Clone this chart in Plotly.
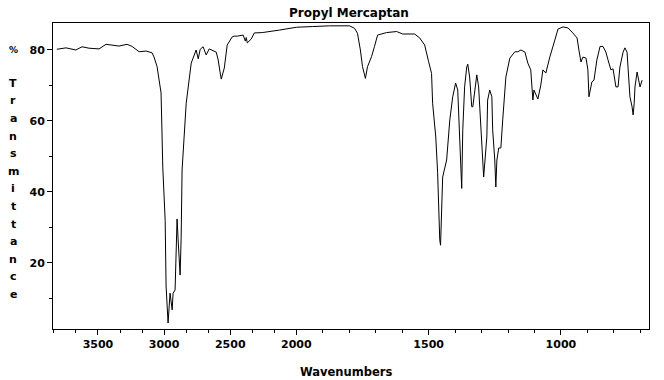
import plotly.graph_objects as go

# ---- data (wavenumber cm-1, % transmittance) ----
wavenumbers = [
    3811, 3742, 3667, 3621, 3568, 3492, 3439, 3341, 3280, 3242, 3189, 3136, 3091, 3076,
    3053, 3023, 3018, 3010, 2992, 2985, 2970, 2955, 2939, 2932, 2917, 2909, 2902, 2894,
    2879, 2871, 2864, 2833, 2795, 2758, 2742, 2727, 2705, 2682, 2659, 2606, 2591, 2576,
    2568, 2545, 2523, 2485, 2470, 2447, 2402, 2386, 2379, 2371, 2341, 2318, 2258, 2129,
    2000, 1939, 1875, 1799, 1780, 1769, 1758, 1750, 1739, 1731, 1716, 1705, 1693, 1659,
    1621, 1598, 1553, 1534, 1515, 1500, 1489, 1485, 1473, 1466, 1462, 1458, 1455, 1451,
    1447, 1432, 1420, 1409, 1398, 1390, 1383, 1375, 1371, 1364, 1356, 1352, 1345, 1337,
    1333, 1322, 1318, 1311, 1303, 1292, 1280, 1277, 1269, 1261, 1258, 1250, 1246, 1242,
    1235, 1227, 1220, 1208, 1193, 1174, 1163, 1151, 1136, 1125, 1114, 1106, 1102, 1095,
    1087, 1076, 1068, 1057, 1042, 1023, 1011, 992, 973, 955, 939, 932, 924, 917,
    905, 898, 894, 883, 875, 864, 852, 841, 830, 822, 811, 803, 792, 784,
    777, 765, 758, 750, 746, 739, 731, 727, 723, 720, 712, 708, 701, 693,
]
transmittance = [
    80.2, 80.6, 80.0, 80.9, 80.5, 80.3, 81.6, 81.1, 81.6, 81.0, 79.5, 79.7, 79.2, 78.0,
    75.3, 67.9, 60.0, 47.0, 32.0, 13.5, 3.1, 11.5, 6.8, 11.5, 12.4, 26.5, 32.4, 26.5,
    16.6, 27.3, 46.2, 65.0, 76.3, 80.0, 77.5, 80.2, 80.9, 78.6, 80.3, 79.4, 77.2, 73.5,
    71.8, 74.9, 81.4, 83.7, 83.9, 83.9, 84.2, 82.5, 83.5, 82.0, 83.1, 84.8, 84.9, 85.6,
    86.4, 86.6, 86.8, 86.8, 86.1, 84.7, 80.0, 75.3, 72.0, 75.3, 78.1, 80.9, 84.2, 84.9,
    85.2, 84.5, 84.5, 83.4, 81.4, 76.7, 73.4, 65.0, 55.5, 45.4, 34.0, 26.5, 25.0, 35.8,
    44.2, 49.0, 60.3, 66.8, 70.7, 68.7, 57.5, 41.0, 57.5, 69.6, 75.2, 76.0, 72.4, 64.0,
    64.0, 72.0, 73.0, 69.6, 58.3, 44.2, 55.5, 65.9, 68.7, 66.8, 57.5, 49.0, 41.4, 49.0,
    52.4, 52.4, 60.3, 72.4, 77.7, 79.5, 79.5, 80.0, 79.4, 76.3, 74.4, 65.9, 68.7, 67.5,
    66.2, 70.1, 74.4, 73.5, 78.0, 82.8, 85.9, 86.5, 86.2, 84.8, 83.4, 80.0, 76.6, 78.0,
    77.7, 74.4, 66.8, 71.0, 71.5, 77.2, 81.0, 81.0, 79.4, 77.2, 74.4, 74.7, 69.6, 69.6,
    75.2, 79.4, 80.6, 79.4, 74.4, 66.8, 64.0, 61.7, 65.0, 69.6, 73.8, 72.4, 69.6, 71.5,
]
x_tick_values = [3500, 3000, 2500, 2000, 1500, 1000]
x_tick_labels = ["3500", "3000", "2500", "2000", "1500", "1000"]
x_minor_values = [3833, 3667, 3333, 3167, 2833, 2667, 2333, 2167,
                  1900, 1800, 1700, 1600, 1400, 1300, 1200, 1100, 900, 800, 700]
y_tick_values = [20, 40, 60, 80]
y_minor_values = [10, 30, 50, 70]
x_range_wn = [3840, 667]
y_range = [1.4, 87.6]
title_text = "Propyl Mercaptan"
x_title = "Wavenumbers"
y_title_chars = ["%", "T", "r", "a", "n", "s", "m", "i", "t", "t", "a", "n", "c", "e"]

# Axis scale change at 2000 cm-1 (upper region compressed 2x)
BREAK = 2000
def to_axis(w):
    return w if w <= BREAK else BREAK + (w - BREAK) / 2.0

W, H = 664, 380
L, R, T, B = 53, 15, 23, 51
PW, PH = W - L - R, H - T - B
FONT = "DejaVu Sans"

fig = go.Figure()
fig.add_trace(go.Scatter(
    x=[to_axis(w) for w in wavenumbers], y=transmittance,
    mode="lines", line=dict(color="black", width=1), showlegend=False,
))

def px_x(px):
    return (px - L) / PW
def px_y(py):
    return (H - B - py) / PH

annotations = []
# stacked y-axis title
ys = [50] + [83.3 + 17.6 * i for i in range(13)]
for ch, py in zip(y_title_chars, ys):
    annotations.append(dict(
        text=f"<b>{ch}</b>", x=px_x(13), y=px_y(py), xref="paper", yref="paper",
        showarrow=False, xanchor="center", yanchor="middle",
        font=dict(family=FONT, size=11 if ch != "%" else 9, color="black"),
    ))
annotations.append(dict(
    text=f"<b>{x_title}</b>", x=px_x(346), y=px_y(372), xref="paper", yref="paper",
    showarrow=False, xanchor="center", yanchor="middle",
    font=dict(family=FONT, size=11.5, color="black"),
))

fig.update_layout(
    width=W, height=H,
    margin=dict(l=L, r=R, t=T, b=B, pad=0),
    paper_bgcolor="white", plot_bgcolor="white",
    title=dict(text=f"<b>{title_text}</b>", x=349 / W, xanchor="center",
               y=1 - 13 / H, yanchor="middle", yref="container",
               font=dict(family=FONT, size=12, color="black")),
    annotations=annotations,
    xaxis=dict(
        range=[to_axis(x_range_wn[0]), to_axis(x_range_wn[1])],
        tickvals=[to_axis(v) for v in x_tick_values], ticktext=x_tick_labels,
        ticks="outside", ticklen=5, tickwidth=1, tickcolor="black",
        minor=dict(tickvals=[to_axis(v) for v in x_minor_values], ticks="outside",
                   ticklen=3, tickwidth=1, tickcolor="black", showgrid=False),
        showline=True, linecolor="black", linewidth=1, mirror=True,
        showgrid=False, zeroline=False,
        tickfont=dict(family=FONT, size=11, color="black", weight="bold"),
    ),
    yaxis=dict(
        range=y_range, tickvals=y_tick_values,
        ticktext=[str(v) for v in y_tick_values],
        ticks="outside", ticklen=5, tickwidth=1, tickcolor="black",
        minor=dict(tickvals=y_minor_values, ticks="outside",
                   ticklen=3, tickwidth=1, tickcolor="black", showgrid=False),
        showline=True, linecolor="black", linewidth=1, mirror=True,
        showgrid=False, zeroline=False,
        tickfont=dict(family=FONT, size=11, color="black", weight="bold"),
    ),
)

fig.write_html(
    "out.html",
    config={"displayModeBar": False},
    post_script="document.body.style.margin='0';document.body.style.overflow='hidden';",
)
